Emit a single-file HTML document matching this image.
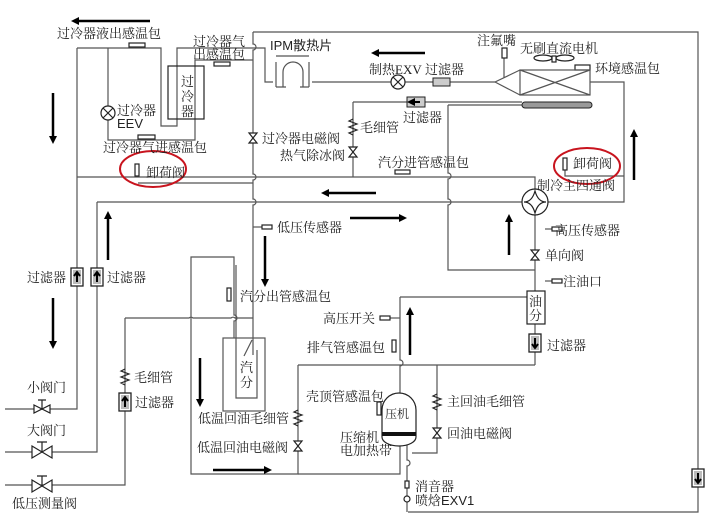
<!DOCTYPE html>
<html><head><meta charset="utf-8"><style>
html,body{margin:0;padding:0;background:#fff;}
svg{display:block;}
text{font-family:"Liberation Serif","Noto Serif CJK SC","Noto Sans CJK SC",serif;font-size:13px;fill:#222;}
.l{stroke:#555;stroke-width:1.2;fill:none;}
.a{stroke:#000;stroke-width:2.5;fill:none;}
.s{stroke:#222;stroke-width:1.2;fill:#fff;}
</style></head><body>
<svg width="715" height="517" viewBox="0 0 715 517" xmlns="http://www.w3.org/2000/svg">
<defs>
<marker id="ah" markerWidth="8" markerHeight="8" refX="4" refY="4" orient="auto" markerUnits="userSpaceOnUse"><path d="M0,0 L8,4 L0,8 Z" fill="#000"/></marker>
<g id="vv"><path d="M-5,-4 L5,4 L5,-4 L-5,4 Z" class="s" transform="rotate(90)"/></g>
<g id="filt"><rect x="-6" y="-9" width="12" height="18" fill="#fff" stroke="#222" stroke-width="1.3"/><rect x="-4" y="-7" width="8" height="14" fill="#bbb"/><path d="M0,5 L0,-5 M-3,-1 L0,-5 L3,-1" stroke="#000" stroke-width="2" fill="none"/></g>
<g id="cap"><path d="M0,-8 L-4,-6 L4,-3 L-4,0 L4,3 L-4,6 L0,8" stroke="#222" stroke-width="1.2" fill="none"/></g>
</defs>

<!-- lines -->
<g class="l">
<!-- outer frame right -->
<path d="M253,32 H698 V512 H408"/>
<!-- left subcooler area -->
<path d="M77,48 H161 V126 H177 V48 H253"/>
<path d="M108,48 V140 H195 V60 H253"/>
<path d="M77,48 V409 H5"/>
<path d="M77,177 H253"/>
<path d="M138,183 H253"/>
<path d="M97,202 H253"/>
<path d="M97,202 V452 H5"/>
<!-- main vertical -->
<path d="M253,32 V44 a3,3 0 0 1 0,6 V174 a3,3 0 0 1 0,6 V199 a3,3 0 0 1 0,6 V355"/>
<path d="M253,48 H265 V82 H273"/>
<path d="M312,82 H495"/>
<path d="M504,58 V78"/>
<path d="M590,82 H624 V202 H548"/>
<path d="M353,102 H522"/>
<path d="M353,102 V177"/>
<path d="M448,105 H522"/>
<path d="M448,105 V173 a3,3 0 0 1 0,6 V199 a3,3 0 0 1 0,6 V270 H535"/>
<path d="M253,177 H535 V189"/>
<path d="M565,168 V176 H624"/>
<path d="M253,202 H522"/>
<path d="M535,215 V291"/>
<path d="M535,324 V365"/>
<path d="M400,297 H527"/>
<path d="M400,297 V360 a3,3 0 0 1 0,6 V393"/>
<path d="M298,365 H535"/>
<path d="M437,365 V453 H412"/>
<path d="M298,365 V474 H191 V257 H234 V315 a3,3 0 0 1 0,6 V338"/>
<path d="M298,474 H400 V445"/>
<path d="M407,445 V460 a3,3 0 0 1 0,6 V512"/>
<path d="M125,318 H189 a3,3 0 0 1 4,0 H231 a3,3 0 0 1 4,0 H253"/>
<path d="M125,318 V485 H5"/>
<path d="M236,265 V398 H257 V350"/>
<path d="M252,340 L244,356"/>
<path d="M545,229 H552"/><path d="M545,281 H552"/><path d="M388,318 H400"/>
<path d="M253,227 H262"/>
</g>

<!-- components -->
<rect x="168" y="66" width="36" height="53" class="s" fill="none" style="fill:none"/>
<rect x="223" y="338" width="42" height="73" class="l"/>
<!-- IPM -->
<path d="M276,87 V62 M309,87 V62 M276,56 H309 M283,87 V72 a10,10 0 0 1 20,0 V87 M276,87 H286 M300,87 H309" class="l" stroke="#222"/>
<!-- sensors -->
<rect x="129" y="43" width="16" height="4" class="s"/>
<rect x="214" y="62" width="16" height="4" class="s"/>
<rect x="138" y="135" width="17" height="4" class="s"/>
<rect x="135" y="164" width="4" height="12" class="s"/>
<rect x="563" y="158" width="4" height="12" class="s"/>
<rect x="395" y="170" width="15" height="4" class="s"/>
<rect x="262" y="225" width="10" height="4" class="s"/>
<rect x="227" y="288" width="4" height="13" class="s"/>
<rect x="502" y="48" width="5" height="10" class="s"/>
<rect x="575" y="65" width="15" height="5" class="s"/>
<rect x="552" y="227" width="10" height="4" class="s"/>
<rect x="552" y="279" width="10" height="4" class="s"/>
<rect x="380" y="316" width="10" height="4" class="s"/>
<rect x="392" y="340" width="4" height="12" class="s"/>
<rect x="377" y="402" width="4" height="13" class="s"/>
<rect x="405" y="481" width="4" height="7" class="s"/>
<circle cx="407" cy="499" r="3" class="s"/>
<!-- EEVs -->
<g class="s"><circle cx="108" cy="113" r="7"/><path d="M103,108 L113,118 M113,108 L103,118"/></g>
<g class="s"><circle cx="398" cy="82" r="7"/><path d="M393,77 L403,87 M403,77 L393,87"/></g>
<!-- filters small on lines -->
<rect x="433" y="78" width="17" height="8" fill="#ccc" stroke="#222"/>
<rect x="407" y="97" width="18" height="10" fill="#ccc" stroke="#222"/><path d="M420,102 H411" stroke="#000" stroke-width="2" marker-end="url(#ah)"/>
<!-- coil -->
<path d="M495,82 L520,70 M495,82 L520,95" class="l" stroke="#222"/>
<rect x="520" y="70" width="70" height="25" class="l" stroke="#222"/>
<path d="M520,70 L590,95 M520,95 L590,70" class="l"/>
<rect x="522" y="102" width="70" height="6" rx="3" fill="#999" stroke="#222"/>
<ellipse cx="543" cy="58" rx="9" ry="3" class="s"/><ellipse cx="565" cy="58" rx="9" ry="3" class="s"/><rect x="552" y="56" width="4" height="6" class="s"/>
<!-- 4-way -->
<circle cx="535" cy="202" r="13" class="s"/><path d="M535,191 Q538,202 546,202 Q538,202 535,213 Q532,202 524,202 Q532,202 535,191Z" class="s"/>
<!-- oil sep -->
<rect x="527" y="291" width="18" height="33" class="s"/>
<!-- compressor -->
<path d="M382,437 V410 a17,17 0 0 1 34,0 V437 a17,9 0 0 1 -34,0Z" class="s"/>
<rect x="382" y="432" width="34" height="4" fill="#111"/>
<!-- valves -->
<use href="#vv" x="253" y="138"/><use href="#vv" x="353" y="152"/><use href="#vv" x="535" y="255"/>
<use href="#vv" x="298" y="446"/><use href="#vv" x="437" y="433"/>
<!-- capillaries -->
<use href="#cap" x="353" y="127"/><use href="#cap" x="125" y="377"/><use href="#cap" x="298" y="418"/><use href="#cap" x="437" y="402"/>
<!-- filters -->
<use href="#filt" x="77" y="277"/><use href="#filt" x="97" y="277"/><use href="#filt" x="125" y="402"/>
<use href="#filt" x="535" y="343" transform="rotate(180 535 343)"/><use href="#filt" x="698" y="478" transform="rotate(180 698 478)"/>
<!-- manual valves -->
<g class="s"><path d="M34,405 L50,413 L50,405 L34,413Z M42,409 V400 M38,400 H46"/></g>
<g class="s"><path d="M32,446 L52,458 L52,446 L32,458Z M42,452 V442 M37,442 H47"/></g>
<g class="s"><path d="M32,480 L52,492 L52,480 L32,492Z M42,486 V476 M37,476 H47"/></g>

<!-- arrows -->
<g class="a">
<path d="M150,21 H75" marker-end="url(#ah)"/>
<path d="M53,93 H53 V140" marker-end="url(#ah)"/>
<path d="M108,260 V215" marker-end="url(#ah)"/>
<path d="M53,298 V345" marker-end="url(#ah)"/>
<path d="M425,53 H375" marker-end="url(#ah)"/>
<path d="M376,193 H325" marker-end="url(#ah)"/>
<path d="M350,218 H403" marker-end="url(#ah)"/>
<path d="M265,236 V283" marker-end="url(#ah)"/>
<path d="M634,180 V133" marker-end="url(#ah)"/>
<path d="M509,255 V218" marker-end="url(#ah)"/>
<path d="M410,355 V311" marker-end="url(#ah)"/>
<path d="M200,358 V403" marker-end="url(#ah)"/>
<path d="M213,470 H268" marker-end="url(#ah)"/>
</g>

<!-- red ellipses -->
<ellipse cx="153" cy="169" rx="33" ry="18" fill="none" stroke="#c8141e" stroke-width="2"/>
<ellipse cx="587" cy="166" rx="33" ry="18" fill="none" stroke="#c8141e" stroke-width="2"/>

<!-- labels -->
<text x="57" y="38">过冷器液出感温包</text>
<text x="193" y="46">过冷器气</text>
<text x="193" y="59">出感温包</text>
<text x="181" y="86">过</text><text x="181" y="101">冷</text><text x="181" y="116">器</text>
<text x="117" y="115">过冷器</text>
<text x="117" y="128" style="font-family:'Liberation Sans',sans-serif">EEV</text>
<text x="103" y="152">过冷器气进感温包</text>
<text x="146" y="177">卸荷阀</text>
<text x="270" y="50" style="font-family:'Liberation Sans','Noto Sans CJK SC',sans-serif">IPM散热片</text>
<text x="262" y="143">过冷器电磁阀</text>
<text x="280" y="160">热气除冰阀</text>
<text x="360" y="132">毛细管</text>
<text x="369" y="74">制热EXV</text>
<text x="425" y="74">过滤器</text>
<text x="403" y="122">过滤器</text>
<text x="477" y="45">注氟嘴</text>
<text x="520" y="53">无刷直流电机</text>
<text x="595" y="73">环境感温包</text>
<text x="378" y="167">汽分进管感温包</text>
<text x="573" y="168">卸荷阀</text>
<text x="537" y="190">制冷主四通阀</text>
<text x="277" y="232">低压传感器</text>
<text x="555" y="235">高压传感器</text>
<text x="545" y="260">单向阀</text>
<text x="563" y="286">注油口</text>
<text x="240" y="301">汽分出管感温包</text>
<text x="323" y="323">高压开关</text>
<text x="307" y="352">排气管感温包</text>
<text x="529" y="306">油</text><text x="529" y="320">分</text>
<text x="547" y="350">过滤器</text>
<text x="240" y="372">汽</text><text x="240" y="387">分</text>
<text x="27" y="282">过滤器</text>
<text x="107" y="282">过滤器</text>
<text x="27" y="392">小阀门</text>
<text x="27" y="435">大阀门</text>
<text x="12" y="508">低压测量阀</text>
<text x="134" y="382">毛细管</text>
<text x="135" y="407">过滤器</text>
<text x="306" y="401">壳顶管感温包</text>
<text x="385" y="418" style="font-size:12px">压机</text>
<text x="447" y="406">主回油毛细管</text>
<text x="447" y="438">回油电磁阀</text>
<text x="198" y="423">低温回油毛细管</text>
<text x="197" y="452">低温回油电磁阀</text>
<text x="340" y="442">压缩机</text>
<text x="340" y="455">电加热带</text>
<text x="415" y="491">消音器</text>
<text x="415" y="505">喷焓<tspan style="font-family:'Liberation Sans',sans-serif">EXV1</tspan></text>
</svg>
</body></html>
